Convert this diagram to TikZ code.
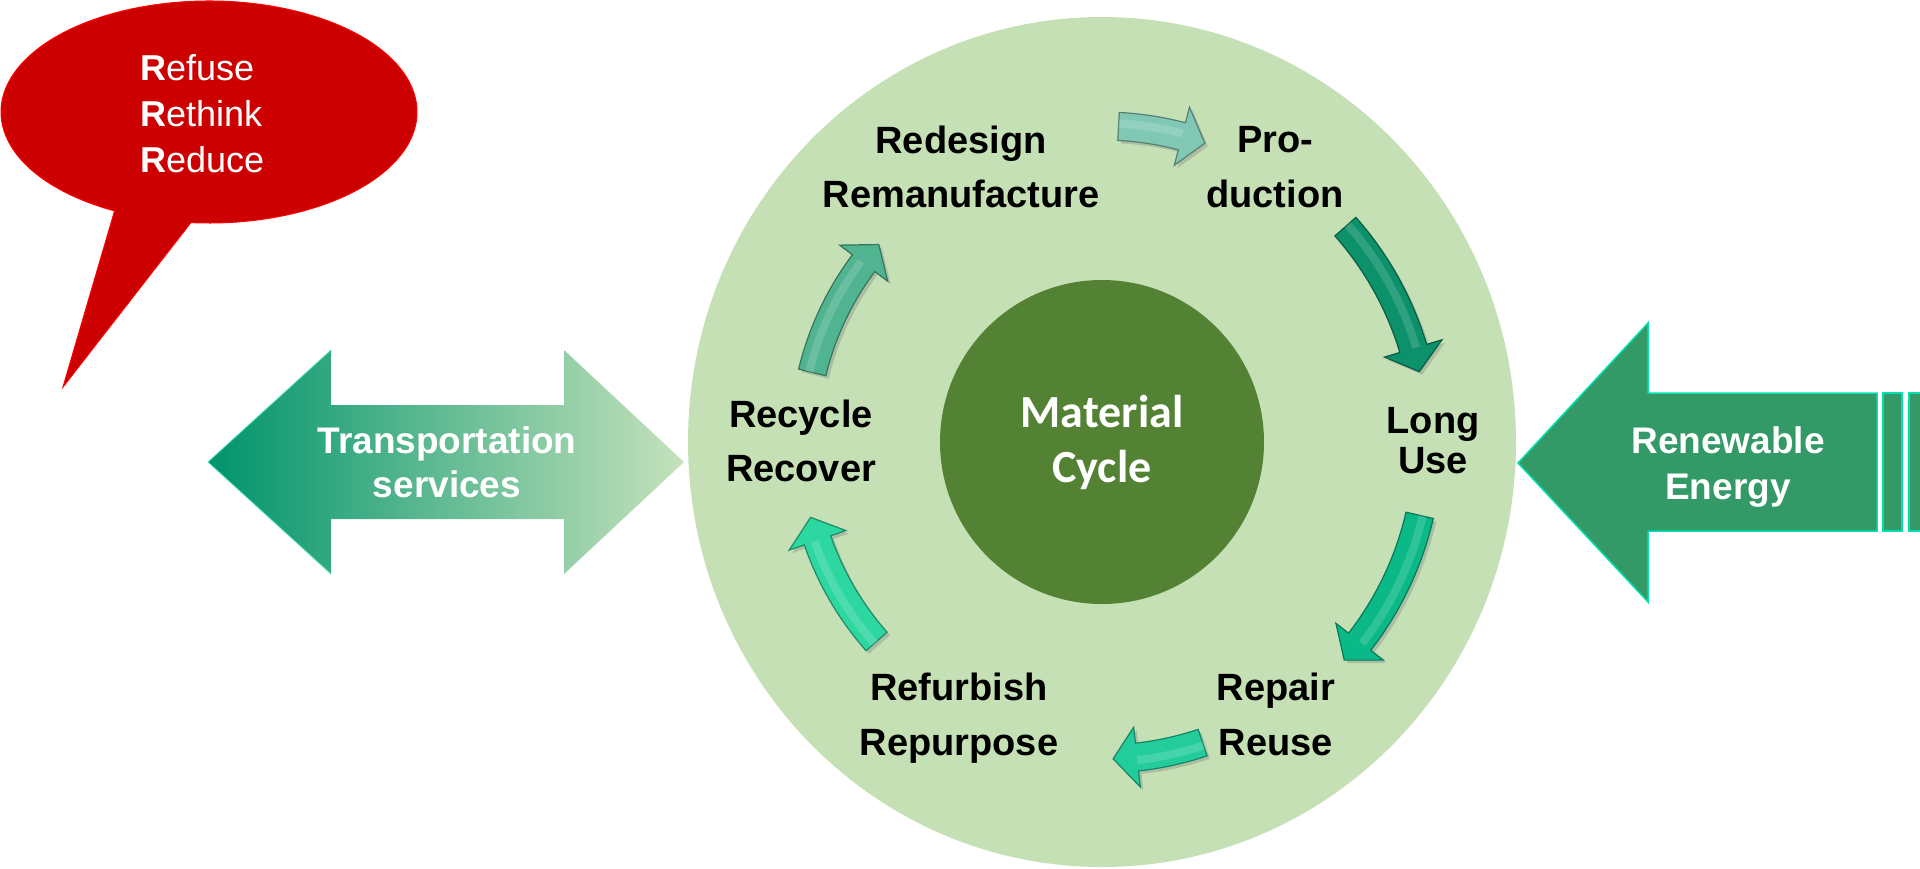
\documentclass[tikz,border=0pt]{standalone}
\usepackage{fontspec}
\setmainfont{Liberation Sans}
\newfontfamily\calibrifont{Carlito}
\usetikzlibrary{shadows}
\definecolor{ringgreen}{RGB}{197,224,180}
\definecolor{coregreen}{RGB}{84,130,53}
\definecolor{calloutred}{RGB}{204,0,0}
\definecolor{energygreen}{RGB}{51,153,102}
\definecolor{aquaedge}{RGB}{0,225,175}
\definecolor{transdark}{RGB}{0,148,108}
\definecolor{translight}{RGB}{198,226,188}
\definecolor{arrowA}{RGB}{128,200,180}
\definecolor{arrowB}{RGB}{12,145,106}
\definecolor{arrowC}{RGB}{10,185,135}
\definecolor{arrowD}{RGB}{35,205,155}
\definecolor{arrowE}{RGB}{45,215,160}
\definecolor{arrowF}{RGB}{80,180,145}
\tikzset{
  cyclelabel/.style={font=\bfseries\fontsize{38}{#1}\selectfont, text=black, align=center, anchor=base, inner sep=0pt},
  cyclelabel/.default=54,
  whitelabel/.style={font=\bfseries\fontsize{37}{#1}\selectfont, text=white, align=center, anchor=base, inner sep=0pt},
  whitelabel/.default=45,
  cyclearrowstyle/.style={fill=#1, draw=#1!65!black, line width=1.2pt,
     drop shadow={opacity=.35, shadow xshift=3pt, shadow yshift=-3pt}},
}
\newcommand\cyclearrow[4]{%
  \pgfmathsetmacro\hb{#4+24/#2*180/pi}%
  \pgfmathsetmacro\ro{#2+14}\pgfmathsetmacro\ri{#2-14}%
  \pgfmathsetmacro\Ro{#2+30}\pgfmathsetmacro\Ri{#2-30}%
  \pgfmathsetmacro\rmid{#2+3}%
  \path[cyclearrowstyle=#1]
    (#3:\ro) arc[start angle=#3, end angle=\hb, radius=\ro] -- (\hb:\Ro) -- (#4:#2)
    -- (\hb:\Ri) -- (\hb:\ri) arc[start angle=\hb, end angle=#3, radius=\ri] -- cycle;
  \draw[white, opacity=.15, line width=8pt] (#3:\rmid) arc[start angle=#3, end angle=\hb, radius=\rmid];
}
\begin{document}
\begin{tikzpicture}[x=1pt, y=1pt]
\useasboundingbox (0,-868) rectangle (1920,0);

% speech bubble
\path[fill=calloutred, draw=red, line width=1pt]
  (63,-387) -- (114.57,-210.90) arc[start angle=243, end angle=-95, x radius=208, y radius=111] -- cycle;
\node[font=\fontsize{36}{46}\selectfont, text=white, align=left, anchor=base west, inner sep=0pt]
  (bubble) at (140,-172) {\textbf{R}efuse\\\textbf{R}ethink\\\textbf{R}educe};

% big ring and core
\fill[ringgreen] (1102,-442) ellipse[x radius=414, y radius=425];
\node[circle, fill=coregreen, minimum size=324pt, inner sep=0pt, text=white,
      font=\calibrifont\bfseries\fontsize{46}{55}\selectfont, align=center]
  (core) at (1102,-442) {\raisebox{-3pt}{Material}\\\raisebox{-3pt}{Cycle}};

% transportation double arrow
\shade[left color=transdark, right color=translight]
  (208,-462) -- (331,-350) -- (331,-405) -- (564,-405) -- (564,-350) -- (684,-462)
  -- (564,-574) -- (564,-519) -- (331,-519) -- (331,-574) -- cycle;
\draw[aquaedge!70!white, line width=1pt, opacity=.7] (331,-350) -- (208,-462) -- (331,-574);
\node[whitelabel=44] (transport) at (447,-497) {Transportation\\services};

% renewable energy arrow
\path[fill=energygreen, draw=aquaedge, line width=1.5pt]
  (1518,-463) -- (1648,-323) -- (1648,-393) -- (1877,-393) -- (1877,-531)
  -- (1648,-531) -- (1648,-602) -- cycle;
\path[fill=energygreen, draw=aquaedge, line width=1.5pt] (1883,-393) rectangle (1902,-531);
\path[fill=energygreen, draw=aquaedge, line width=1.5pt] (1909,-393) rectangle (1924,-531);
\node[whitelabel=46] (energy) at (1728,-499) {Renewable\\Energy};

% cycle labels
\node[cyclelabel=54] (redesign) at (961,-207) {Redesign\\Remanufacture};
\node[cyclelabel=55] (production) at (1275,-207) {Pro-\\duction};
\node[cyclelabel=40] (longuse) at (1433,-473) {Long\\Use};
\node[cyclelabel=55] (repair) at (1276,-755) {Repair\\Reuse};
\node[cyclelabel=55] (refurbish) at (959,-755) {Refurbish\\Repurpose};
\node[cyclelabel=54] (recycle) at (801,-481) {Recycle\\Recover};

% cycle arrows
\begin{scope}[shift={(1102,-442)}]
  \cyclearrow{arrowA}{316}{87}{71}
  \cyclearrow{arrowB}{325}{41.5}{12.5}
  \cyclearrow{arrowC}{326}{-13}{-42}
  \cyclearrow{arrowD}{317}{-71.5}{-88}
  \cyclearrow{arrowE}{301}{221.5}{194.5}
  \cyclearrow{arrowF}{298}{166.5}{138.5}
\end{scope}
\end{tikzpicture}
\end{document}
